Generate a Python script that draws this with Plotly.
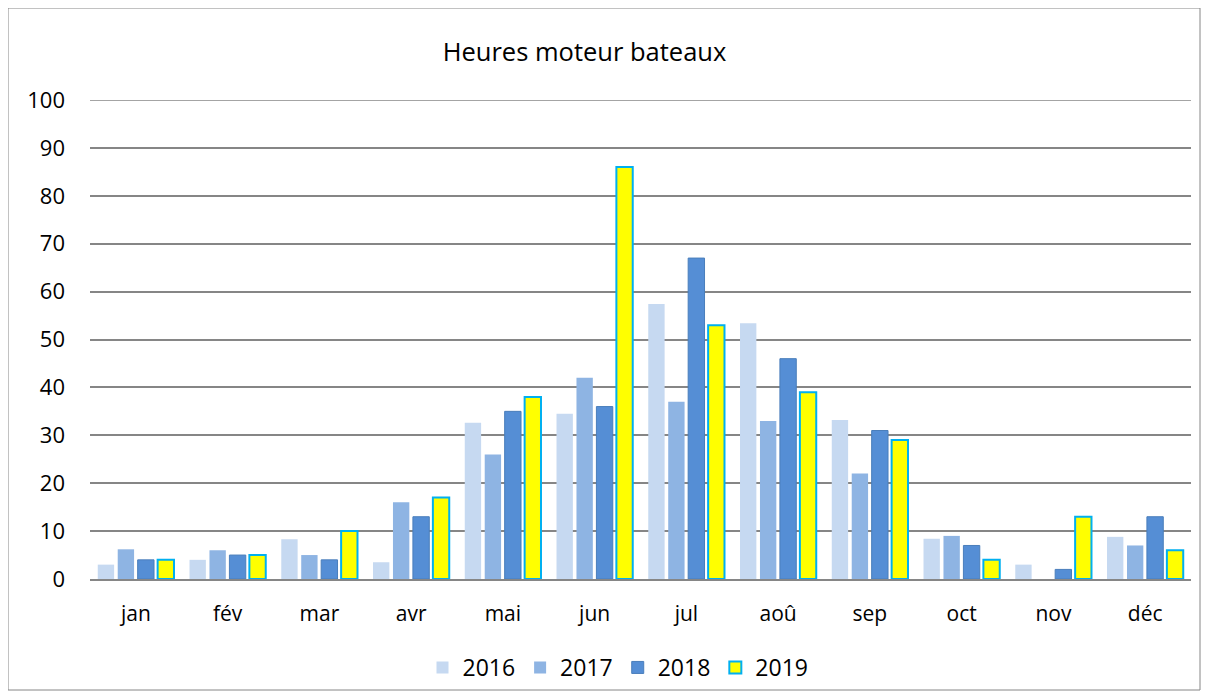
import plotly.graph_objects as go

months = ["jan", "fév", "mar", "avr", "mai", "jun", "jul", "aoû", "sep", "oct", "nov", "déc"]
v2016 = [3, 4, 8.3, 3.5, 32.6, 34.5, 57.4, 53.4, 33.2, 8.4, 3, 8.8]
v2017 = [6.2, 6, 5, 16, 26, 42, 37, 33, 22, 9, 0, 7]
v2018 = [4, 5, 4, 13, 35, 36, 67, 46, 31, 7, 2, 13]
v2019 = [4, 5, 10, 17, 38, 86, 53, 39, 29, 4, 13, 6]
yticks = [0, 10, 20, 30, 40, 50, 60, 70, 80, 90, 100]

FONT = "'Open Sans', sans-serif"

fig = go.Figure()
fig.add_trace(go.Bar(x=months, y=v2016, name="2016",
                     marker=dict(color="#C6D9F1", line=dict(width=0))))
fig.add_trace(go.Bar(x=months, y=v2017, name="2017",
                     marker=dict(color="#8EB4E3", line=dict(width=0))))
fig.add_trace(go.Bar(x=months, y=v2018, name="2018",
                     marker=dict(color="#558ED5", line=dict(color="#4A7EBB", width=1))))
fig.add_trace(go.Bar(x=months, y=v2019, name="2019",
                     marker=dict(color="#FFFF00", line=dict(color="#00B0F0", width=2))))

L, R, T, B = 82, 26, 92, 129
PW, PH = 1209 - L - R, 700 - T - B

fig.update_layout(
    width=1209, height=700,
    paper_bgcolor="white", plot_bgcolor="white",
    margin=dict(l=L, r=R, t=T, b=B, autoexpand=False),
    barmode="group", bargap=0.13, bargroupgap=0.18,
    title=dict(text="Heures moteur bateaux", x=(607 - L) / PW, xanchor="center",
               y=1 - 44 / 700, yanchor="middle",
               font=dict(family=FONT, size=25.5, color="#000000")),
    font=dict(family=FONT, size=22, color="#000000"),
    xaxis=dict(showgrid=False, showline=True, linecolor="#868686", linewidth=1.5,
               ticks="", ticklabelstandoff=15, tickfont=dict(size=21)),
    yaxis=dict(range=[0, 100], tickvals=yticks, showgrid=True, gridcolor="#868686",
               gridwidth=1.5, zeroline=False, showline=False, ticks="",
               ticklabelstandoff=24, tickfont=dict(size=22)),
    legend=dict(orientation="h", x=(610 - L) / PW, xanchor="center",
                y=-(659 - 571 - 21) / PH, yanchor="top", bgcolor="rgba(0,0,0,0)",
                font=dict(size=23), traceorder="normal"),
    shapes=[
        dict(type="line", xref="paper", yref="y", x0=0, x1=1, y0=100, y1=100,
             line=dict(color="#868686", width=1.5), layer="below"),
        dict(type="rect", xref="paper", yref="paper", x0=-L / PW, x1=(1192 - L) / PW,
             y0=-(682 - 571) / PH, y1=1 + T / PH, line=dict(color="#868686", width=1)),
    ],
)

fig.write_html("out.html")
